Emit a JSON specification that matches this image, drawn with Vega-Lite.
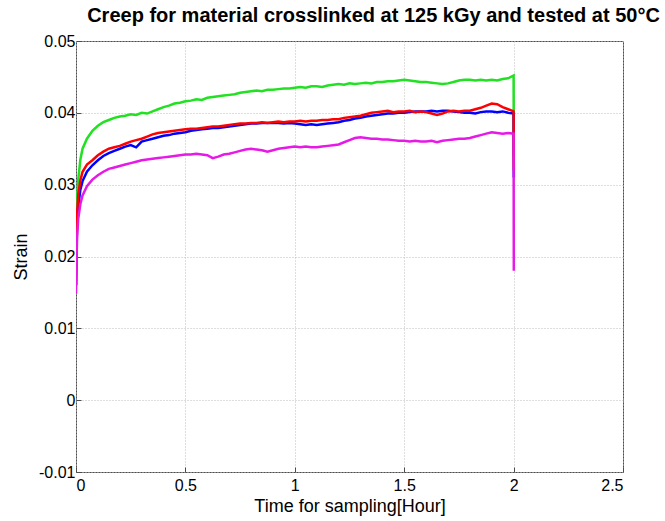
{
  "$schema": "https://vega.github.io/schema/vega-lite/v6.json",
  "width": 547,
  "height": 431,
  "autosize": {"type": "none"},
  "padding": {"left": 76, "top": 41, "right": 42, "bottom": 49},
  "background": "white",
  "title": {"text": "Creep for material crosslinked at 125 kGy and tested at 50°C", "font": "Liberation Sans", "fontSize": 20, "fontWeight": "bold", "color": "black", "anchor": "middle", "dx": 24, "offset": 7},
  "config": {
    "view": {"stroke": "#4d4d4d", "strokeWidth": 1},
    "axis": {"labelFont": "Liberation Sans", "labelFontSize": 16, "labelColor": "black", "titleFont": "Liberation Sans", "titleFontSize": 18, "titleFontWeight": "normal", "titleColor": "black", "domain": false, "tickColor": "#4d4d4d", "tickSize": -5, "gridColor": "#bdbdbd", "gridDash": [1, 2], "gridWidth": 1}
  },
  "data": {"values": [
    {"s": "1green", "t": 0, "v": 0.016}, {"s": "1green", "t": 0.002, "v": 0.024}, {"s": "1green", "t": 0.005, "v": 0.028}, {"s": "1green", "t": 0.01, "v": 0.0306}, {"s": "1green", "t": 0.02, "v": 0.0335}, {"s": "1green", "t": 0.03, "v": 0.035}, {"s": "1green", "t": 0.05, "v": 0.0364}, {"s": "1green", "t": 0.075, "v": 0.0375}, {"s": "1green", "t": 0.1, "v": 0.0382}, {"s": "1green", "t": 0.125, "v": 0.0387}, {"s": "1green", "t": 0.15, "v": 0.039},
    {"s": "1green", "t": 0.175, "v": 0.0393}, {"s": "1green", "t": 0.2, "v": 0.0395}, {"s": "1green", "t": 0.225, "v": 0.0396}, {"s": "1green", "t": 0.25, "v": 0.0398}, {"s": "1green", "t": 0.275, "v": 0.0397}, {"s": "1green", "t": 0.3, "v": 0.04}, {"s": "1green", "t": 0.325, "v": 0.0399}, {"s": "1green", "t": 0.35, "v": 0.0402}, {"s": "1green", "t": 0.375, "v": 0.0405}, {"s": "1green", "t": 0.4, "v": 0.0408}, {"s": "1green", "t": 0.425, "v": 0.041}, {"s": "1green", "t": 0.45, "v": 0.0413}, {"s": "1green", "t": 0.475, "v": 0.0414}, {"s": "1green", "t": 0.5, "v": 0.0416}, {"s": "1green", "t": 0.525, "v": 0.0417}, {"s": "1green", "t": 0.55, "v": 0.0419}, {"s": "1green", "t": 0.575, "v": 0.0418}, {"s": "1green", "t": 0.6, "v": 0.0421}, {"s": "1green", "t": 0.625, "v": 0.0422}, {"s": "1green", "t": 0.65, "v": 0.0423}, {"s": "1green", "t": 0.675, "v": 0.0424}, {"s": "1green", "t": 0.7, "v": 0.0425}, {"s": "1green", "t": 0.725, "v": 0.0426}, {"s": "1green", "t": 0.75, "v": 0.0428}, {"s": "1green", "t": 0.775, "v": 0.0429}, {"s": "1green", "t": 0.8, "v": 0.043}, {"s": "1green", "t": 0.825, "v": 0.0431}, {"s": "1green", "t": 0.85, "v": 0.043}, {"s": "1green", "t": 0.875, "v": 0.0432}, {"s": "1green", "t": 0.9, "v": 0.0432}, {"s": "1green", "t": 0.925, "v": 0.0433}, {"s": "1green", "t": 0.95, "v": 0.0434}, {"s": "1green", "t": 0.975, "v": 0.0434}, {"s": "1green", "t": 1.0, "v": 0.0435}, {"s": "1green", "t": 1.025, "v": 0.0436}, {"s": "1green", "t": 1.05, "v": 0.0435}, {"s": "1green", "t": 1.075, "v": 0.0437}, {"s": "1green", "t": 1.1, "v": 0.0437}, {"s": "1green", "t": 1.125, "v": 0.0436}, {"s": "1green", "t": 1.15, "v": 0.0438}, {"s": "1green", "t": 1.175, "v": 0.0439}, {"s": "1green", "t": 1.2, "v": 0.044}, {"s": "1green", "t": 1.225, "v": 0.0439}, {"s": "1green", "t": 1.25, "v": 0.0441}, {"s": "1green", "t": 1.275, "v": 0.044}, {"s": "1green", "t": 1.3, "v": 0.0441}, {"s": "1green", "t": 1.325, "v": 0.0442}, {"s": "1green", "t": 1.35, "v": 0.0441}, {"s": "1green", "t": 1.375, "v": 0.0443}, {"s": "1green", "t": 1.4, "v": 0.0443}, {"s": "1green", "t": 1.425, "v": 0.0444}, {"s": "1green", "t": 1.45, "v": 0.0444}, {"s": "1green", "t": 1.475, "v": 0.0445}, {"s": "1green", "t": 1.5, "v": 0.0446}, {"s": "1green", "t": 1.525, "v": 0.0445}, {"s": "1green", "t": 1.55, "v": 0.0444}, {"s": "1green", "t": 1.575, "v": 0.0443}, {"s": "1green", "t": 1.6, "v": 0.0443}, {"s": "1green", "t": 1.625, "v": 0.0442}, {"s": "1green", "t": 1.65, "v": 0.0441}, {"s": "1green", "t": 1.675, "v": 0.044}, {"s": "1green", "t": 1.7, "v": 0.0441}, {"s": "1green", "t": 1.725, "v": 0.0443}, {"s": "1green", "t": 1.75, "v": 0.0445}, {"s": "1green", "t": 1.775, "v": 0.0446}, {"s": "1green", "t": 1.8, "v": 0.0446}, {"s": "1green", "t": 1.825, "v": 0.0445}, {"s": "1green", "t": 1.85, "v": 0.0446}, {"s": "1green", "t": 1.875, "v": 0.0445}, {"s": "1green", "t": 1.9, "v": 0.0446}, {"s": "1green", "t": 1.925, "v": 0.0445}, {"s": "1green", "t": 1.95, "v": 0.0447}, {"s": "1green", "t": 1.975, "v": 0.0448}, {"s": "1green", "t": 2.0, "v": 0.0452}, {"s": "1green", "t": 2.001, "v": 0.034},

    {"s": "2blue", "t": 0, "v": 0.016}, {"s": "2blue", "t": 0.002, "v": 0.021}, {"s": "2blue", "t": 0.005, "v": 0.0245}, {"s": "2blue", "t": 0.01, "v": 0.027}, {"s": "2blue", "t": 0.02, "v": 0.0293}, {"s": "2blue", "t": 0.03, "v": 0.0305}, {"s": "2blue", "t": 0.05, "v": 0.0318}, {"s": "2blue", "t": 0.075, "v": 0.0327}, {"s": "2blue", "t": 0.1, "v": 0.0334}, {"s": "2blue", "t": 0.125, "v": 0.034}, {"s": "2blue", "t": 0.15, "v": 0.0344},
    {"s": "2blue", "t": 0.175, "v": 0.0347}, {"s": "2blue", "t": 0.2, "v": 0.035}, {"s": "2blue", "t": 0.225, "v": 0.0353}, {"s": "2blue", "t": 0.25, "v": 0.0355}, {"s": "2blue", "t": 0.275, "v": 0.0352}, {"s": "2blue", "t": 0.3, "v": 0.036}, {"s": "2blue", "t": 0.325, "v": 0.0362}, {"s": "2blue", "t": 0.35, "v": 0.0364}, {"s": "2blue", "t": 0.375, "v": 0.0366}, {"s": "2blue", "t": 0.4, "v": 0.0368}, {"s": "2blue", "t": 0.425, "v": 0.0369}, {"s": "2blue", "t": 0.45, "v": 0.0371}, {"s": "2blue", "t": 0.475, "v": 0.0372}, {"s": "2blue", "t": 0.5, "v": 0.0373}, {"s": "2blue", "t": 0.525, "v": 0.0375}, {"s": "2blue", "t": 0.55, "v": 0.0376}, {"s": "2blue", "t": 0.575, "v": 0.0377}, {"s": "2blue", "t": 0.6, "v": 0.0378}, {"s": "2blue", "t": 0.625, "v": 0.0379}, {"s": "2blue", "t": 0.65, "v": 0.0379}, {"s": "2blue", "t": 0.675, "v": 0.038}, {"s": "2blue", "t": 0.7, "v": 0.0381}, {"s": "2blue", "t": 0.725, "v": 0.0382}, {"s": "2blue", "t": 0.75, "v": 0.0383}, {"s": "2blue", "t": 0.775, "v": 0.0384}, {"s": "2blue", "t": 0.8, "v": 0.0385}, {"s": "2blue", "t": 0.825, "v": 0.0385}, {"s": "2blue", "t": 0.85, "v": 0.0386}, {"s": "2blue", "t": 0.875, "v": 0.0386}, {"s": "2blue", "t": 0.9, "v": 0.0386}, {"s": "2blue", "t": 0.925, "v": 0.0386}, {"s": "2blue", "t": 0.95, "v": 0.0385}, {"s": "2blue", "t": 0.975, "v": 0.0386}, {"s": "2blue", "t": 1.0, "v": 0.0385}, {"s": "2blue", "t": 1.025, "v": 0.0384}, {"s": "2blue", "t": 1.05, "v": 0.0383}, {"s": "2blue", "t": 1.075, "v": 0.0384}, {"s": "2blue", "t": 1.1, "v": 0.0383}, {"s": "2blue", "t": 1.125, "v": 0.0384}, {"s": "2blue", "t": 1.15, "v": 0.0385}, {"s": "2blue", "t": 1.175, "v": 0.0386}, {"s": "2blue", "t": 1.2, "v": 0.0387}, {"s": "2blue", "t": 1.225, "v": 0.0389}, {"s": "2blue", "t": 1.25, "v": 0.039}, {"s": "2blue", "t": 1.275, "v": 0.0392}, {"s": "2blue", "t": 1.3, "v": 0.0393}, {"s": "2blue", "t": 1.325, "v": 0.0395}, {"s": "2blue", "t": 1.35, "v": 0.0396}, {"s": "2blue", "t": 1.375, "v": 0.0397}, {"s": "2blue", "t": 1.4, "v": 0.0398}, {"s": "2blue", "t": 1.425, "v": 0.0399}, {"s": "2blue", "t": 1.45, "v": 0.0399}, {"s": "2blue", "t": 1.475, "v": 0.04}, {"s": "2blue", "t": 1.5, "v": 0.04}, {"s": "2blue", "t": 1.525, "v": 0.0401}, {"s": "2blue", "t": 1.55, "v": 0.0402}, {"s": "2blue", "t": 1.575, "v": 0.0402}, {"s": "2blue", "t": 1.6, "v": 0.0402}, {"s": "2blue", "t": 1.625, "v": 0.0403}, {"s": "2blue", "t": 1.65, "v": 0.0402}, {"s": "2blue", "t": 1.675, "v": 0.0403}, {"s": "2blue", "t": 1.7, "v": 0.0403}, {"s": "2blue", "t": 1.725, "v": 0.0402}, {"s": "2blue", "t": 1.75, "v": 0.0401}, {"s": "2blue", "t": 1.775, "v": 0.04}, {"s": "2blue", "t": 1.8, "v": 0.04}, {"s": "2blue", "t": 1.825, "v": 0.0399}, {"s": "2blue", "t": 1.85, "v": 0.0401}, {"s": "2blue", "t": 1.875, "v": 0.0402}, {"s": "2blue", "t": 1.9, "v": 0.0402}, {"s": "2blue", "t": 1.925, "v": 0.0401}, {"s": "2blue", "t": 1.95, "v": 0.0402}, {"s": "2blue", "t": 1.975, "v": 0.04}, {"s": "2blue", "t": 2.0, "v": 0.0399}, {"s": "2blue", "t": 2.001, "v": 0.031},

    {"s": "3red", "t": 0, "v": 0.016}, {"s": "3red", "t": 0.002, "v": 0.022}, {"s": "3red", "t": 0.005, "v": 0.026}, {"s": "3red", "t": 0.01, "v": 0.0285}, {"s": "3red", "t": 0.02, "v": 0.0306}, {"s": "3red", "t": 0.03, "v": 0.0318}, {"s": "3red", "t": 0.05, "v": 0.0328}, {"s": "3red", "t": 0.075, "v": 0.0334}, {"s": "3red", "t": 0.1, "v": 0.0341}, {"s": "3red", "t": 0.125, "v": 0.0346}, {"s": "3red", "t": 0.15, "v": 0.035},
    {"s": "3red", "t": 0.175, "v": 0.0352}, {"s": "3red", "t": 0.2, "v": 0.0354}, {"s": "3red", "t": 0.225, "v": 0.0357}, {"s": "3red", "t": 0.25, "v": 0.036}, {"s": "3red", "t": 0.275, "v": 0.0362}, {"s": "3red", "t": 0.3, "v": 0.0364}, {"s": "3red", "t": 0.325, "v": 0.0367}, {"s": "3red", "t": 0.35, "v": 0.037}, {"s": "3red", "t": 0.375, "v": 0.0372}, {"s": "3red", "t": 0.4, "v": 0.0373}, {"s": "3red", "t": 0.425, "v": 0.0374}, {"s": "3red", "t": 0.45, "v": 0.0375}, {"s": "3red", "t": 0.475, "v": 0.0376}, {"s": "3red", "t": 0.5, "v": 0.0377}, {"s": "3red", "t": 0.525, "v": 0.0378}, {"s": "3red", "t": 0.55, "v": 0.0378}, {"s": "3red", "t": 0.575, "v": 0.0379}, {"s": "3red", "t": 0.6, "v": 0.038}, {"s": "3red", "t": 0.625, "v": 0.0381}, {"s": "3red", "t": 0.65, "v": 0.0381}, {"s": "3red", "t": 0.675, "v": 0.0382}, {"s": "3red", "t": 0.7, "v": 0.0383}, {"s": "3red", "t": 0.725, "v": 0.0384}, {"s": "3red", "t": 0.75, "v": 0.0385}, {"s": "3red", "t": 0.775, "v": 0.0385}, {"s": "3red", "t": 0.8, "v": 0.0386}, {"s": "3red", "t": 0.825, "v": 0.0386}, {"s": "3red", "t": 0.85, "v": 0.0387}, {"s": "3red", "t": 0.875, "v": 0.0386}, {"s": "3red", "t": 0.9, "v": 0.0387}, {"s": "3red", "t": 0.925, "v": 0.0388}, {"s": "3red", "t": 0.95, "v": 0.0387}, {"s": "3red", "t": 0.975, "v": 0.0388}, {"s": "3red", "t": 1.0, "v": 0.0388}, {"s": "3red", "t": 1.025, "v": 0.0389}, {"s": "3red", "t": 1.05, "v": 0.0388}, {"s": "3red", "t": 1.075, "v": 0.0389}, {"s": "3red", "t": 1.1, "v": 0.0389}, {"s": "3red", "t": 1.125, "v": 0.039}, {"s": "3red", "t": 1.15, "v": 0.039}, {"s": "3red", "t": 1.175, "v": 0.0391}, {"s": "3red", "t": 1.2, "v": 0.0391}, {"s": "3red", "t": 1.225, "v": 0.0393}, {"s": "3red", "t": 1.25, "v": 0.0394}, {"s": "3red", "t": 1.275, "v": 0.0395}, {"s": "3red", "t": 1.3, "v": 0.0396}, {"s": "3red", "t": 1.325, "v": 0.0398}, {"s": "3red", "t": 1.35, "v": 0.04}, {"s": "3red", "t": 1.375, "v": 0.0401}, {"s": "3red", "t": 1.4, "v": 0.0402}, {"s": "3red", "t": 1.425, "v": 0.0403}, {"s": "3red", "t": 1.45, "v": 0.0401}, {"s": "3red", "t": 1.475, "v": 0.0402}, {"s": "3red", "t": 1.5, "v": 0.0402}, {"s": "3red", "t": 1.525, "v": 0.0403}, {"s": "3red", "t": 1.55, "v": 0.0401}, {"s": "3red", "t": 1.575, "v": 0.0402}, {"s": "3red", "t": 1.6, "v": 0.0401}, {"s": "3red", "t": 1.625, "v": 0.0399}, {"s": "3red", "t": 1.65, "v": 0.0397}, {"s": "3red", "t": 1.675, "v": 0.0399}, {"s": "3red", "t": 1.7, "v": 0.0402}, {"s": "3red", "t": 1.725, "v": 0.0403}, {"s": "3red", "t": 1.75, "v": 0.0402}, {"s": "3red", "t": 1.775, "v": 0.0403}, {"s": "3red", "t": 1.8, "v": 0.0403}, {"s": "3red", "t": 1.825, "v": 0.0405}, {"s": "3red", "t": 1.85, "v": 0.0407}, {"s": "3red", "t": 1.875, "v": 0.041}, {"s": "3red", "t": 1.9, "v": 0.0413}, {"s": "3red", "t": 1.925, "v": 0.0412}, {"s": "3red", "t": 1.95, "v": 0.0408}, {"s": "3red", "t": 1.975, "v": 0.0405}, {"s": "3red", "t": 2.0, "v": 0.0402}, {"s": "3red", "t": 2.001, "v": 0.032},

    {"s": "4magenta", "t": 0, "v": 0.0148}, {"s": "4magenta", "t": 0.002, "v": 0.019}, {"s": "4magenta", "t": 0.005, "v": 0.0226}, {"s": "4magenta", "t": 0.01, "v": 0.0252}, {"s": "4magenta", "t": 0.02, "v": 0.0273}, {"s": "4magenta", "t": 0.03, "v": 0.0285}, {"s": "4magenta", "t": 0.05, "v": 0.0298}, {"s": "4magenta", "t": 0.075, "v": 0.0307}, {"s": "4magenta", "t": 0.1, "v": 0.0313}, {"s": "4magenta", "t": 0.125, "v": 0.0318}, {"s": "4magenta", "t": 0.15, "v": 0.0322},
    {"s": "4magenta", "t": 0.175, "v": 0.0324}, {"s": "4magenta", "t": 0.2, "v": 0.0326}, {"s": "4magenta", "t": 0.225, "v": 0.0328}, {"s": "4magenta", "t": 0.25, "v": 0.033}, {"s": "4magenta", "t": 0.275, "v": 0.0332}, {"s": "4magenta", "t": 0.3, "v": 0.0334}, {"s": "4magenta", "t": 0.325, "v": 0.0335}, {"s": "4magenta", "t": 0.35, "v": 0.0336}, {"s": "4magenta", "t": 0.375, "v": 0.0337}, {"s": "4magenta", "t": 0.4, "v": 0.0338}, {"s": "4magenta", "t": 0.425, "v": 0.0339}, {"s": "4magenta", "t": 0.45, "v": 0.034}, {"s": "4magenta", "t": 0.475, "v": 0.0341}, {"s": "4magenta", "t": 0.5, "v": 0.0342}, {"s": "4magenta", "t": 0.525, "v": 0.0342}, {"s": "4magenta", "t": 0.55, "v": 0.0343}, {"s": "4magenta", "t": 0.575, "v": 0.0342}, {"s": "4magenta", "t": 0.6, "v": 0.0341}, {"s": "4magenta", "t": 0.625, "v": 0.0337}, {"s": "4magenta", "t": 0.65, "v": 0.0339}, {"s": "4magenta", "t": 0.675, "v": 0.0342}, {"s": "4magenta", "t": 0.7, "v": 0.0343}, {"s": "4magenta", "t": 0.725, "v": 0.0345}, {"s": "4magenta", "t": 0.75, "v": 0.0347}, {"s": "4magenta", "t": 0.775, "v": 0.0349}, {"s": "4magenta", "t": 0.8, "v": 0.035}, {"s": "4magenta", "t": 0.825, "v": 0.0349}, {"s": "4magenta", "t": 0.85, "v": 0.0348}, {"s": "4magenta", "t": 0.875, "v": 0.0346}, {"s": "4magenta", "t": 0.9, "v": 0.0348}, {"s": "4magenta", "t": 0.925, "v": 0.035}, {"s": "4magenta", "t": 0.95, "v": 0.0351}, {"s": "4magenta", "t": 0.975, "v": 0.0352}, {"s": "4magenta", "t": 1.0, "v": 0.0353}, {"s": "4magenta", "t": 1.025, "v": 0.0352}, {"s": "4magenta", "t": 1.05, "v": 0.0353}, {"s": "4magenta", "t": 1.075, "v": 0.0352}, {"s": "4magenta", "t": 1.1, "v": 0.0352}, {"s": "4magenta", "t": 1.125, "v": 0.0353}, {"s": "4magenta", "t": 1.15, "v": 0.0354}, {"s": "4magenta", "t": 1.175, "v": 0.0355}, {"s": "4magenta", "t": 1.2, "v": 0.0356}, {"s": "4magenta", "t": 1.225, "v": 0.0359}, {"s": "4magenta", "t": 1.25, "v": 0.0362}, {"s": "4magenta", "t": 1.275, "v": 0.0365}, {"s": "4magenta", "t": 1.3, "v": 0.0366}, {"s": "4magenta", "t": 1.325, "v": 0.0365}, {"s": "4magenta", "t": 1.35, "v": 0.0364}, {"s": "4magenta", "t": 1.375, "v": 0.0364}, {"s": "4magenta", "t": 1.4, "v": 0.0363}, {"s": "4magenta", "t": 1.425, "v": 0.0363}, {"s": "4magenta", "t": 1.45, "v": 0.0362}, {"s": "4magenta", "t": 1.475, "v": 0.0361}, {"s": "4magenta", "t": 1.5, "v": 0.0361}, {"s": "4magenta", "t": 1.525, "v": 0.036}, {"s": "4magenta", "t": 1.55, "v": 0.0361}, {"s": "4magenta", "t": 1.575, "v": 0.036}, {"s": "4magenta", "t": 1.6, "v": 0.036}, {"s": "4magenta", "t": 1.625, "v": 0.0361}, {"s": "4magenta", "t": 1.65, "v": 0.0359}, {"s": "4magenta", "t": 1.675, "v": 0.0361}, {"s": "4magenta", "t": 1.7, "v": 0.0362}, {"s": "4magenta", "t": 1.725, "v": 0.0363}, {"s": "4magenta", "t": 1.75, "v": 0.0364}, {"s": "4magenta", "t": 1.775, "v": 0.0364}, {"s": "4magenta", "t": 1.8, "v": 0.0365}, {"s": "4magenta", "t": 1.825, "v": 0.0367}, {"s": "4magenta", "t": 1.85, "v": 0.0369}, {"s": "4magenta", "t": 1.875, "v": 0.0371}, {"s": "4magenta", "t": 1.9, "v": 0.0373}, {"s": "4magenta", "t": 1.925, "v": 0.0372}, {"s": "4magenta", "t": 1.95, "v": 0.0371}, {"s": "4magenta", "t": 1.975, "v": 0.0372}, {"s": "4magenta", "t": 2.0, "v": 0.0371}, {"s": "4magenta", "t": 2.001, "v": 0.018}
  ]},
  "mark": {"type": "line", "strokeWidth": 2.5, "clip": true},
  "encoding": {
    "x": {"field": "t", "type": "quantitative", "scale": {"domain": [0, 2.5], "nice": false}, "axis": {"title": "Time for sampling[Hour]", "values": [0, 0.5, 1, 1.5, 2, 2.5], "format": "~g", "labelPadding": 10, "titlePadding": 4}},
    "y": {"field": "v", "type": "quantitative", "scale": {"domain": [-0.01, 0.05], "nice": false, "zero": false}, "axis": {"title": "Strain", "values": [-0.01, 0, 0.01, 0.02, 0.03, 0.04, 0.05], "labelExpr": "datum.value == 0 ? '0' : (datum.value < 0 ? '-' + format(-datum.value, '.2f') : format(datum.value, '.2f'))", "labelPadding": 6, "titlePadding": 8}},
    "color": {"field": "s", "type": "nominal", "scale": {"domain": ["1green", "2blue", "3red", "4magenta"], "range": ["#22e022", "#0000ff", "#ff0000", "#e619e6"]}, "legend": null}
  }
}
